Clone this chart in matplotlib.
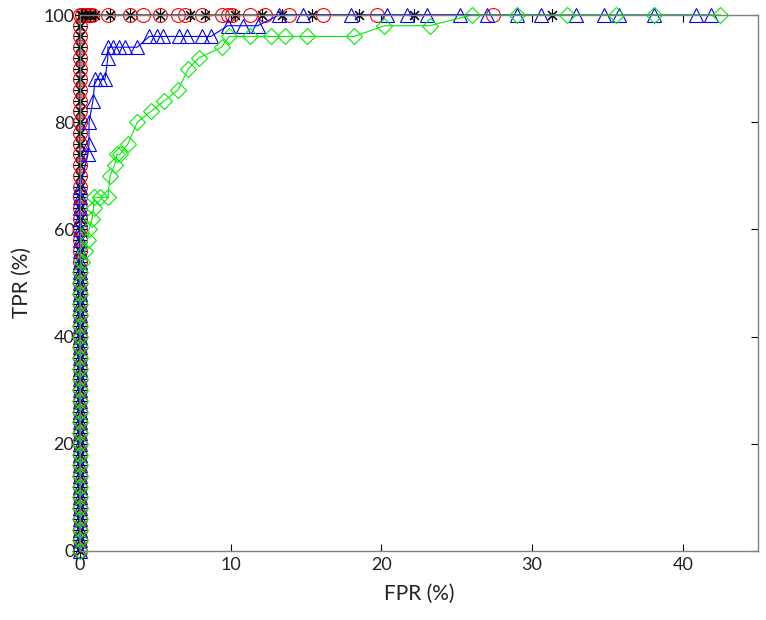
import numpy as np
from matplotlib import pyplot as plt

plt.rcParams['font.family'] = ['Lato', 'DejaVu Sans']

# vertical part at FPR = 0 (TPR values in %)
col_red = list(range(0, 100, 2))
col_black = list(range(0, 100, 2))
col_blue = list(range(0, 70, 2))
col_green = list(range(0, 54, 2))

# red circles
red_fpr = [0] * len(col_red) + [0, 0.13, 0.33, 0.53, 0.66, 0.8, 1.85, 3.3, 4.2, 5.3, 6.5, 7.0,
                                8.1, 9.4, 9.8, 10.1, 11.3, 12.3, 13.9, 16.1, 19.7, 27.4]
red_tpr = col_red + [100] * 22

# black asterisks
black_fpr = [0] * len(col_black) + [0.1, 0.13, 0.33, 0.66, 1.0, 2.0, 3.3, 5.3, 7.3, 8.3,
                                    10.3, 12.1, 13.4, 15.4, 18.5, 22.2, 31.3]
black_tpr = col_black + [100] * 17

# blue triangles
blue_fpr = [0] * len(col_blue) + [0.53, 0.6, 0.6, 0.86, 1.0, 1.3, 1.66, 1.85, 1.85, 2.2, 2.6, 3.0,
                                  3.8, 4.6, 5.1, 5.5, 6.6, 7.1, 8.1, 8.7, 9.8, 10.8, 11.8,
                                  13.2, 14.8, 18.0, 20.4, 21.7, 23.0, 25.2, 27.0, 29.0, 30.6,
                                  32.9, 34.8, 35.8, 38.1, 40.9, 41.9]
blue_tpr = col_blue + [74, 76, 80, 84, 88, 88, 88, 92, 94, 94, 94, 94,
                       94, 96, 96, 96, 96, 96, 96, 96, 98, 98, 98,
                       100, 100, 100, 100, 100, 100, 100, 100, 100, 100,
                       100, 100, 100, 100, 100, 100]

# green diamonds
green_fpr = [0] * len(col_green) + [0.15, 0.33, 0.5, 0.6, 0.8, 0.9, 0.95, 1.3, 1.85, 2.0, 2.3, 2.45,
                                    2.65, 3.2, 3.8, 4.7, 5.6, 6.5, 7.2, 7.9, 9.4, 9.9, 11.3,
                                    12.7, 13.6, 15.1, 18.2, 20.2, 23.2, 26.0, 29.0, 32.3,
                                    35.6, 38.1, 42.5]
green_tpr = col_green + [54, 56, 58, 60, 62, 64, 66, 66, 66, 70, 72, 74,
                         74, 76, 80, 82, 84, 86, 90, 92, 94, 96, 96,
                         96, 96, 96, 96, 98, 98, 100, 100, 100,
                         100, 100, 100]

fig = plt.figure(figsize=(7.66, 6.2), dpi=100)
ax = fig.add_axes([0.1044, 0.1113, 0.8852, 0.8645])

ms = 10
lw = 0.8
ax.plot(red_fpr, red_tpr, color='red', marker='o', ms=ms, mfc='none', lw=lw, mew=0.8, clip_on=False)
ax.plot(black_fpr, black_tpr, color='black', marker=(8, 2, 0), ms=ms * 0.9, mfc='none', lw=lw, mew=0.8, clip_on=False)
ax.plot(blue_fpr, blue_tpr, color='blue', marker='^', ms=ms, mfc='none', lw=lw, mew=0.8, clip_on=False)
ax.plot(green_fpr, green_tpr, color='#00ee00', marker='D', ms=ms * 0.8, mfc='none', lw=lw, mew=0.8, clip_on=False)

ax.set_xlim(0, 45)
ax.set_ylim(0, 100)
ax.set_xticks([0, 10, 20, 30, 40])
ax.set_yticks([0, 20, 40, 60, 80, 100])
ax.tick_params(direction='in', length=5, width=0.8, top=True, right=True,
               labelsize=13, labelcolor='#222222', pad=4)
for s in ax.spines.values():
    s.set_color('#808080')
    s.set_linewidth(1.0)

ax.set_xlabel('FPR (%)', fontsize=15, color='#222222', labelpad=8)
ax.set_ylabel('TPR (%)', fontsize=15, color='#222222', labelpad=8)

fig.savefig('out.png', dpi=100)
